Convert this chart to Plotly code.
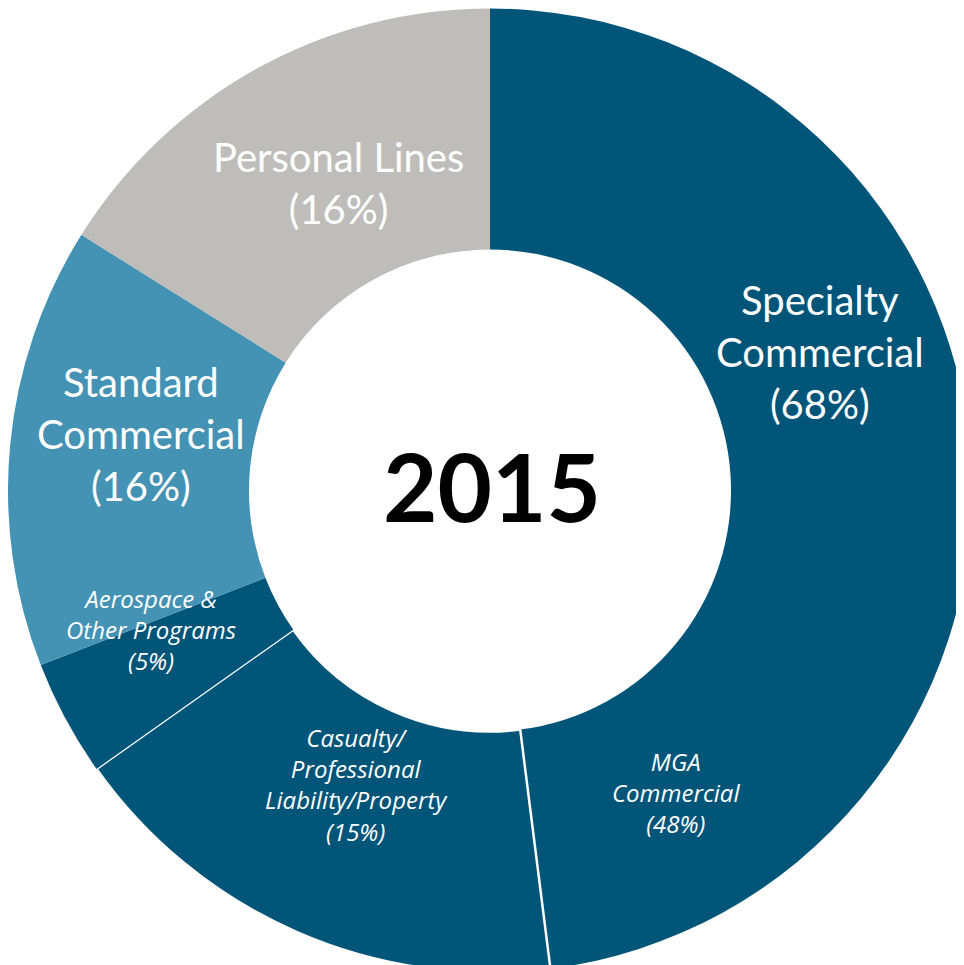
import plotly.graph_objects as go

# slices, clockwise from 12 o'clock (shares as drawn in the picture)
segments = ['MGA Commercial', 'Casualty/Professional Liability/Property',
            'Aerospace & Other Programs', 'Standard Commercial', 'Personal Lines']
shares = [48, 17.2, 3.9, 14.8, 16.1]
colors = ['#005578', '#005578', '#005578', '#4493b4', '#bfbdb9']

year = '2015'

# label texts shown on the ring
big_labels = ['Specialty<br>Commercial<br>(68%)',
              'Personal Lines<br>(16%)',
              'Standard<br>Commercial<br>(16%)']
small_labels = ['MGA<br>Commercial<br>(48%)',
                'Casualty/<br>Professional<br>Liability/Property<br>(15%)',
                'Aerospace &<br>Other Programs<br>(5%)']

W, H = 964, 965
big_pos = [(812, 344), (330, 175), (133, 426)]
small_pos = [(668, 784), (348, 776), (143, 621)]

fig = go.Figure(go.Pie(
    labels=segments,
    values=shares,
    hole=0.5,
    sort=False,
    direction='clockwise',
    rotation=0,
    textinfo='none',
    hoverinfo='label',
    marker=dict(colors=colors,
                line=dict(color='white', width=[0, 2.5, 0, 0, 0])),
    domain=dict(x=[0.0, 1.0], y=[0.0, 1.0]),
))

annotations = []
for txt, (px, py) in zip(big_labels, big_pos):
    annotations.append(dict(
        text=txt, x=px / W, y=1 - py / H, xref='paper', yref='paper',
        showarrow=False, xanchor='center', yanchor='middle',
        font=dict(family='Lato', size=40, color='white')))
for txt, (px, py) in zip(small_labels, small_pos):
    annotations.append(dict(
        text=txt, x=px / W, y=1 - py / H, xref='paper', yref='paper',
        showarrow=False, xanchor='center', yanchor='middle',
        font=dict(family='Open Sans', size=24, color='white', style='italic')))
annotations.append(dict(
    text='<b>' + year + '</b>', x=484 / W, y=1 - 477 / H, xref='paper', yref='paper',
    showarrow=False, xanchor='center', yanchor='middle',
    font=dict(family='Lato', size=94, color='black')))

fig.update_layout(
    width=W, height=H,
    margin=dict(l=0, r=0, t=0, b=0),
    showlegend=False,
    paper_bgcolor='white',
    plot_bgcolor='white',
    annotations=annotations,
)

fig.write_html('out.html')
